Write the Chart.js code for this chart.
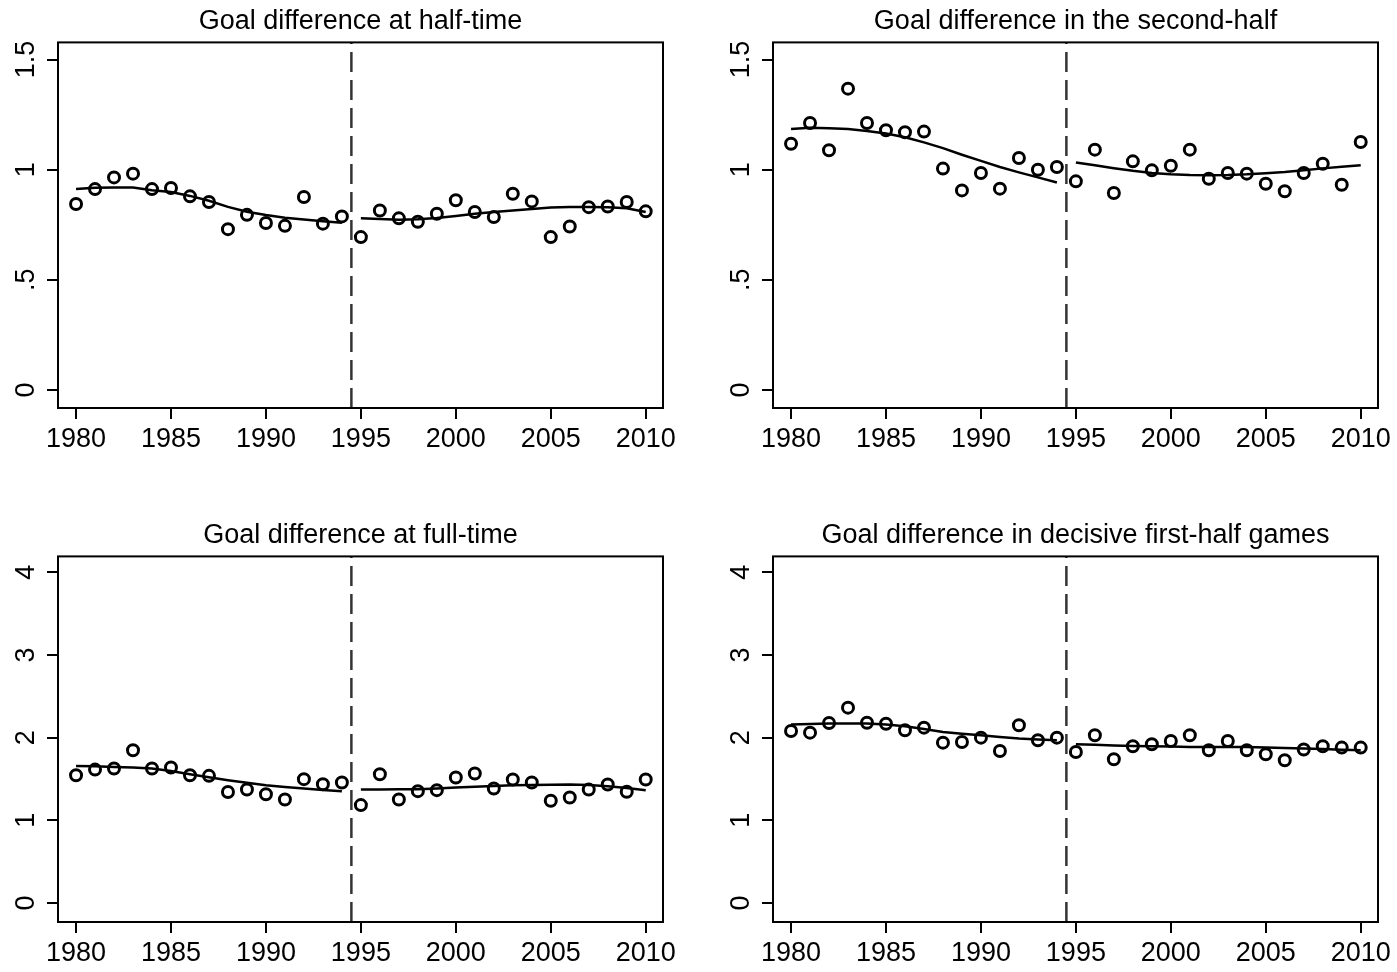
<!DOCTYPE html>
<html>
<head>
<meta charset="utf-8">
<script src="https://cdn.jsdelivr.net/npm/chart.js@4.4.1/dist/chart.umd.min.js"></script>
<style>
  html, body { margin: 0; padding: 0; background: #ffffff; width: 1397px; height: 972px; overflow: hidden; }
  canvas { position: absolute; }
</style>
</head>
<body>
<canvas id="c1" width="682" height="458" style="left:0px;top:0px"></canvas>
<canvas id="c2" width="682" height="458" style="left:715px;top:0px"></canvas>
<canvas id="c3" width="682" height="458" style="left:0px;top:514px"></canvas>
<canvas id="c4" width="682" height="458" style="left:715px;top:514px"></canvas>
<script>
// ---------- data ----------
const years = [1980,1981,1982,1983,1984,1985,1986,1987,1988,1989,1990,1991,1992,1993,1994,
               1995,1996,1997,1998,1999,2000,2001,2002,2003,2004,2005,2006,2007,2008,2009,2010];
const preYears  = [1980,1981,1982,1983,1984,1985,1986,1987,1988,1989,1990,1991,1992,1993,1994];
const postYears = [1995,1996,1997,1998,1999,2000,2001,2002,2003,2004,2005,2006,2007,2008,2009,2010];
const cutoffYear = 1994.5;

const xTicks = [1980, 1985, 1990, 1995, 2000, 2005, 2010];
const topYTicks = [0, 0.5, 1, 1.5];
const topYLabels = ['0', '.5', '1', '1.5'];
const bottomYTicks = [0, 1, 2, 3, 4];
const bottomYLabels = ['0', '1', '2', '3', '4'];

const titles = [
  'Goal difference at half-time',
  'Goal difference in the second-half',
  'Goal difference at full-time',
  'Goal difference in decisive first-half games'
];

const halfTime = [0.844,0.912,0.965,0.982,0.912,0.917,0.879,0.853,0.730,0.795,0.758,0.745,0.876,0.755,0.788,
                  0.694,0.815,0.779,0.764,0.800,0.861,0.808,0.785,0.891,0.856,0.694,0.742,0.830,0.833,0.853,0.811];
const halfTimeFitPre  = [0.912,0.918,0.919,0.919,0.907,0.899,0.881,0.859,0.831,0.809,0.794,0.782,0.774,0.766,0.759];
const halfTimeFitPost = [0.779,0.776,0.773,0.775,0.781,0.790,0.800,0.808,0.815,0.822,0.828,0.831,0.831,0.830,0.825,0.808];

const secondHalf = [1.118,1.212,1.088,1.368,1.212,1.179,1.170,1.173,1.005,0.906,0.985,0.914,1.053,1.000,1.012,
                    0.947,1.091,0.894,1.038,0.997,1.018,1.091,0.959,0.985,0.982,0.936,0.902,0.985,1.027,0.932,1.126];
const secondHalfFitPre  = [1.185,1.191,1.188,1.185,1.176,1.164,1.147,1.124,1.098,1.068,1.040,1.012,0.988,0.965,0.942];
const secondHalfFitPost = [1.033,1.020,1.007,0.995,0.985,0.979,0.976,0.975,0.976,0.979,0.984,0.990,0.998,1.006,1.013,1.020];

const fullTime = [1.546,1.614,1.627,1.848,1.627,1.639,1.546,1.538,1.343,1.373,1.316,1.252,1.498,1.437,1.457,
                  1.184,1.558,1.252,1.353,1.365,1.518,1.566,1.385,1.494,1.457,1.236,1.276,1.373,1.433,1.345,1.494];
const fullTimeFitPre  = [1.658,1.655,1.646,1.638,1.627,1.598,1.558,1.522,1.486,1.455,1.425,1.403,1.385,1.368,1.353];
const fullTimeFitPost = [1.373,1.374,1.375,1.377,1.386,1.397,1.406,1.416,1.425,1.428,1.431,1.433,1.428,1.413,1.392,1.365];

const decisive = [2.081,2.061,2.177,2.363,2.181,2.169,2.089,2.121,1.940,1.948,2.000,1.839,2.150,1.969,2.000,
                  1.826,2.029,1.739,1.896,1.920,1.960,2.029,1.848,1.960,1.848,1.800,1.727,1.856,1.896,1.880,1.880];
const decisiveFitPre  = [2.158,2.165,2.170,2.171,2.170,2.158,2.138,2.105,2.069,2.047,2.029,2.009,1.989,1.979,1.969];
const decisiveFitPost = [1.920,1.913,1.906,1.900,1.896,1.892,1.888,1.888,1.888,1.888,1.882,1.875,1.868,1.862,1.855,1.848];

// ---------- drawing ----------
const FONT = "'Liberation Sans', Arial, Helvetica, sans-serif";
Chart.defaults.font.family = FONT;
Chart.defaults.color = '#000';

const panelDecor = {
  id: 'panelDecor',
  afterDraw(chart, args, opts) {
    const { ctx, chartArea: a } = chart;
    const y = chart.scales.y;
    ctx.save();
    ctx.strokeStyle = '#000';
    ctx.lineWidth = 2;
    ctx.strokeRect(a.left, a.top, a.right - a.left, a.bottom - a.top);
    ctx.fillStyle = '#000';
    ctx.font = '27px ' + FONT;
    ctx.textAlign = 'center';
    ctx.textBaseline = 'middle';
    opts.ticks.forEach((v, i) => {
      const py = y.getPixelForValue(v);
      ctx.save();
      ctx.translate(a.left - 31, py);
      ctx.rotate(-Math.PI / 2);
      ctx.fillText(opts.labels[i], 0, 0);
      ctx.restore();
    });
    ctx.restore();
  }
};

function makePanel(id, title, values, fitPre, fitPost, yTicks, yLabels, yMin, yMax) {
  const points = years.map((x, i) => ({ x: x, y: values[i] }));
  const pre = preYears.map((x, i) => ({ x: x, y: fitPre[i] }));
  const post = postYears.map((x, i) => ({ x: x, y: fitPost[i] }));
  const cut = [{ x: cutoffYear, y: yMin }, { x: cutoffYear, y: yMax }];
  const gridOpts = { drawOnChartArea: false, drawTicks: true, tickLength: 11, lineWidth: 2, color: '#000' };
  new Chart(document.getElementById(id), {
    type: 'scatter',
    data: {
      datasets: [
        { data: cut, showLine: true, borderColor: '#333', borderWidth: 2.5, borderDash: [20, 8], pointRadius: 0 },
        { data: pre, showLine: true, borderColor: '#000', borderWidth: 2.5, pointRadius: 0, tension: 0 },
        { data: post, showLine: true, borderColor: '#000', borderWidth: 2.5, pointRadius: 0, tension: 0 },
        { data: points, showLine: false, pointStyle: 'circle', pointRadius: 5.5, pointBorderWidth: 3,
          borderColor: '#000', backgroundColor: 'rgba(0,0,0,0)', pointBackgroundColor: 'rgba(0,0,0,0)' }
      ]
    },
    options: {
      responsive: false,
      animation: false,
      events: [],
      layout: { padding: { left: 0, right: 19, top: 0, bottom: 0 } },
      plugins: {
        legend: { display: false },
        tooltip: { enabled: false },
        title: { display: true, text: title, color: '#000', fullSize: false,
                 font: { size: 27, weight: 'normal', family: FONT, lineHeight: 1.2 },
                 padding: { top: 5, bottom: 5 } },
        panelDecor: { ticks: yTicks, labels: yLabels }
      },
      scales: {
        x: {
          type: 'linear', min: 1979.05, max: 2010.91,
          afterBuildTicks: s => { s.ticks = xTicks.map(v => ({ value: v })); },
          afterFit: s => { s.height = 50; },
          ticks: { font: { size: 27, family: FONT }, color: '#000', padding: 4, maxRotation: 0, minRotation: 0,
                   autoSkip: false, callback: v => String(v) },
          grid: gridOpts,
          border: { display: false }
        },
        y: {
          type: 'linear', min: yMin, max: yMax,
          afterBuildTicks: s => { s.ticks = yTicks.map(v => ({ value: v })); },
          afterFit: s => { s.width = 58; },
          ticks: { display: false },
          grid: gridOpts,
          border: { display: false }
        }
      }
    },
    plugins: [panelDecor]
  });
}

makePanel('c1', titles[0], halfTime, halfTimeFitPre, halfTimeFitPost, topYTicks, topYLabels, -0.082, 1.578);
makePanel('c2', titles[1], secondHalf, secondHalfFitPre, secondHalfFitPost, topYTicks, topYLabels, -0.082, 1.578);
makePanel('c3', titles[2], fullTime, fullTimeFitPre, fullTimeFitPost, bottomYTicks, bottomYLabels, -0.230, 4.193);
makePanel('c4', titles[3], decisive, decisiveFitPre, decisiveFitPost, bottomYTicks, bottomYLabels, -0.230, 4.193);
</script>
</body>
</html>
